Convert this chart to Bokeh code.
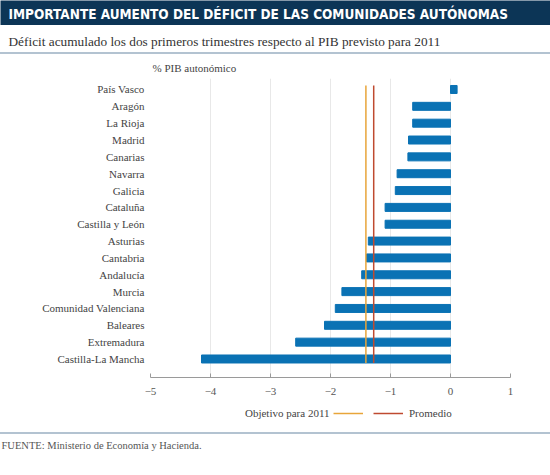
from bokeh.plotting import figure
from bokeh.models import (Range1d, FixedTicker, Label, Legend, LegendItem,
                          ColumnDataSource, Div)
from bokeh.layouts import column
from bokeh.embed import file_html
from bokeh.resources import INLINE

# Regional deficit, first two quarters of 2011, as % of regional GDP
regions = ["País Vasco", "Aragón", "La Rioja", "Madrid", "Canarias", "Navarra",
           "Galicia", "Cataluña", "Castilla y León", "Asturias", "Cantabria",
           "Andalucía", "Murcia", "Comunidad Valenciana", "Baleares",
           "Extremadura", "Castilla-La Mancha"]
deficit = [0.11, -0.63, -0.63, -0.70, -0.71, -0.89, -0.92, -1.09, -1.09,
           -1.37, -1.40, -1.48, -1.81, -1.92, -2.10, -2.58, -4.15]
objetivo_2011 = -1.41
promedio = -1.28
x_ticks = [-5, -4, -3, -2, -1, 0, 1]

TITLE = "IMPORTANTE AUMENTO DEL DÉFICIT DE LAS COMUNIDADES AUTÓNOMAS"
SUBTITLE = "Déficit acumulado los dos primeros trimestres respecto al PIB previsto para 2011"
UNITS = "% PIB autonómico"
SOURCE = "FUENTE: Ministerio de Economía y Hacienda."

W = 550
NAVY = "#0c3556"
RULE = "#b3c3d1"
BLUE = "#0a72b4"
ORANGE = "#e8a53a"
RED = "#bf4a30"
SERIF = "'Liberation Serif', 'DejaVu Serif', serif"
COND = "'DejaVu Sans Condensed', 'Liberation Sans Narrow', sans-serif"


def strip(height, bg="white"):
    """A borderless figure whose data units are pixels, used for page furniture."""
    f = figure(width=W, height=height, x_range=Range1d(0, W), y_range=Range1d(0, height),
               output_backend="svg", toolbar_location=None, min_border=0,
               background_fill_color=bg, border_fill_color=bg, frame_align=False)
    f.axis.visible = False
    f.grid.visible = False
    f.outline_line_color = None
    return f


def rule():
    """A thin full-width separator."""
    return Div(text="", width=W, height=2, margin=0,
               styles={"background-color": RULE, "width": f"{W}px", "height": "2px"})


# Header bar
header = strip(25, NAVY)
header.add_layout(Label(x=8, y=12, text=TITLE, text_font=COND, text_font_style="bold",
                        text_font_size="13.5px", text_color="white", text_baseline="middle"))

# Subtitle
sub = strip(27)
sub.add_layout(Label(x=8, y=11, text=SUBTITLE, text_font=SERIF, text_font_size="13.3px",
                     text_color="#333333", text_baseline="middle"))

# Units caption above the chart
units = strip(24)
units.add_layout(Label(x=152, y=11, text=UNITS, text_font=SERIF, text_font_size="11px",
                       text_color="#444444", text_baseline="middle"))

# Main bar chart
n = len(regions)
ypos = [n - 1 - i for i in range(n)]
bar_h = 0.475
src = ColumnDataSource(dict(y=ypos, v=deficit, name=regions))

p = figure(width=W, height=322, x_range=Range1d(x_ticks[0], x_ticks[-1]),
           y_range=Range1d(-1.099, n - 1 + 0.653),
           output_backend="svg", toolbar_location=None, frame_align=False,
           min_border_left=150, min_border_right=40, min_border_top=0, min_border_bottom=23)
p.outline_line_color = None
p.hbar(y="y", left=0, right="v", height=bar_h, source=src, color=BLUE)
top, bottom = n - 1 + bar_h / 2, -bar_h / 2
p.segment(x0=[objetivo_2011], x1=[objetivo_2011], y0=[top], y1=[bottom],
          line_color=ORANGE, line_width=1.5)
p.segment(x0=[promedio], x1=[promedio], y0=[top], y1=[bottom],
          line_color=RED, line_width=1.5)

p.ygrid.visible = False
p.xgrid.ticker = FixedTicker(ticks=x_ticks)
p.xgrid.grid_line_color = "#e8e8e8"

xa = p.xaxis[0]
xa.ticker = FixedTicker(ticks=x_ticks)
xa.major_label_overrides = {t: str(t).replace("-", "\u2212") for t in x_ticks}
xa.major_tick_in = 4
xa.major_tick_out = 0
xa.minor_tick_line_color = None
xa.axis_line_color = "#9a9a9a"
xa.major_tick_line_color = "#9a9a9a"
xa.major_label_standoff = 10
xa.major_label_text_font = SERIF
xa.major_label_text_font_size = "11px"
xa.major_label_text_color = "#555555"

ya = p.yaxis[0]
ya.ticker = FixedTicker(ticks=ypos)
ya.major_label_overrides = {y: name for y, name in zip(ypos, regions)}
ya.axis_line_color = None
ya.major_tick_line_color = None
ya.minor_tick_line_color = None
ya.major_label_standoff = 0
ya.major_label_text_font = SERIF
ya.major_label_text_font_size = "11px"
ya.major_label_text_color = "#444444"

# Legend row: swatches drawn from off-screen lines
leg = strip(32)
r_obj = leg.line(x=[-20, -10], y=[-20, -20], line_color=ORANGE, line_width=1.5)
r_avg = leg.line(x=[-20, -10], y=[-20, -20], line_color=RED, line_width=1.5)
legend = Legend(items=[LegendItem(label=" ", renderers=[r_obj]),
                       LegendItem(label="Promedio", renderers=[r_avg])],
                orientation="horizontal", location=(333, 13),
                glyph_width=30, glyph_height=12, label_standoff=6, spacing=4,
                label_width=0, padding=0, margin=0, border_line_color=None,
                background_fill_alpha=0,
                label_text_font=SERIF, label_text_font_size="11px",
                label_text_color="#444444", label_height=12)
leg.add_layout(legend, "center")
leg.add_layout(Label(x=329, y=19.5, text="Objetivo para 2011", text_font=SERIF,
                     text_font_size="11px", text_color="#444444",
                     text_align="right", text_baseline="middle"))

# Footer
foot = strip(41)
foot.add_layout(Label(x=1, y=30, text=SOURCE, text_font=SERIF, text_font_size="10.5px",
                      text_color="#555555", text_baseline="middle"))

page = column(header, sub, rule(), units, p, leg, rule(), foot, spacing=0)
open("out.html", "w").write(file_html(page, INLINE))
